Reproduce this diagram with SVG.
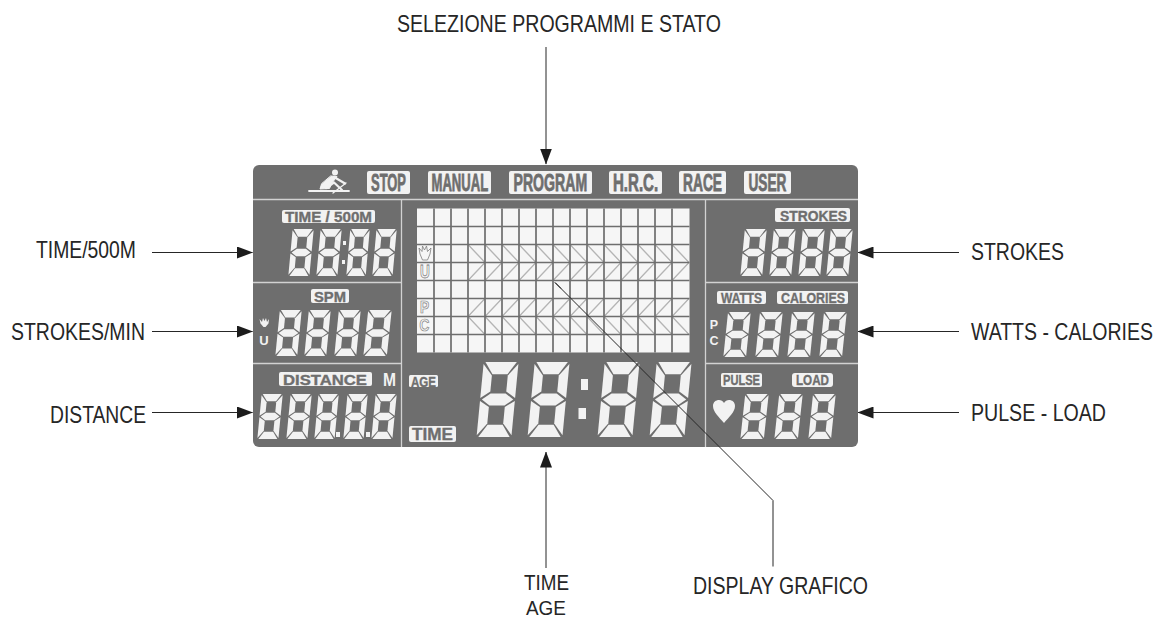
<svg xmlns="http://www.w3.org/2000/svg" xmlns:xlink="http://www.w3.org/1999/xlink" width="1155" height="619" viewBox="0 0 1155 619">
<style>
.t{font-family:"Liberation Sans",Arial,sans-serif;font-size:23px;fill:#262626}
.l{font-family:"Liberation Sans",Arial,sans-serif;font-weight:bold;fill:#6e6e6e;stroke:#6e6e6e;stroke-width:.35}
.h{font-family:"Liberation Sans",Arial,sans-serif;font-weight:bold;font-size:24px;fill:#6e6e6e;stroke:#6e6e6e;stroke-width:.8}
.w{font-family:"Liberation Sans",Arial,sans-serif;font-weight:bold;fill:#f2f2f2}
.o{font-family:"Liberation Sans",Arial,sans-serif;font-weight:bold;font-size:16px;fill:#f4f4f4;stroke:#7d7d7d;stroke-width:.7;opacity:.99}
.b{fill:#f2f2f2}
.s{fill:none;stroke:#d2d2d2;stroke-width:1.3}
.c{fill:none;stroke:#262626;stroke-width:1}
</style>
<defs>
<marker id="a" markerUnits="userSpaceOnUse" markerWidth="16" markerHeight="12" refX="15.5" refY="6" orient="auto"><path d="M0 0L16 6L0 12Z" fill="#1c1c1c"/></marker>
<symbol id="d" viewBox="0 0 100 160" preserveAspectRatio="none">
<g transform="matrix(1 0 -0.105 1 17 0)" fill="#f2f2f2">
<path d="M5 0H78L59 26H24Z"/><path d="M1 4L23 29V63L1 77Z"/><path d="M82 4L60 29V63L82 77Z"/>
<path d="M5 80L24 67H59L78 80L59 93H24Z"/>
<path d="M1 83L23 96V131L1 156Z"/><path d="M82 83L60 96V131L82 156Z"/><path d="M24 134H59L78 160H5Z"/>
</g></symbol>
<pattern id="z" patternUnits="userSpaceOnUse" x="468" width="17" height="36" y="244.5"><path d="M0 0L17 18L0 36" fill="none" stroke="#7a7a7a" stroke-width="1"/></pattern>
</defs>

<g id="panel">
<rect x="253" y="165" width="605" height="282" rx="6" fill="#6e6e6e"/>
<path class="s" d="M253 199.500H858M401.500 199.500V447M705.500 199.500V447M253 282.500H401M253 363.500H401M706 282.500H858M706 363.500H858"/>
</g>

<g id="program-bar">
<g id="rower" fill="#f2f2f2" stroke="#f2f2f2" stroke-linecap="round" stroke-linejoin="round">
<circle cx="335" cy="172.500" r="3" stroke="none"/>
<path d="M309 191H349" stroke-width="1.800" fill="none"/>
<path d="M331 176L337 176.500L332 183L329.500 188.500L320 189L321.500 184Z" stroke-width="1"/>
<path d="M334 177L345 183.500M326 188L334 182.500L342 190" stroke-width="2.200" fill="none"/>
<path d="M333 193L346 183" stroke-width="1.300" fill="none"/>
</g>
<g id="stop"><rect x="367" y="171" width="43" height="23" rx="2" fill="#f2f2f2"/><text class="h" transform="translate(371 191) scale(.55 1)" textLength="63.600" lengthAdjust="spacingAndGlyphs">STOP</text></g>
<g id="manual"><rect x="428" y="171" width="63" height="23" rx="2" fill="#f2f2f2"/><text class="h" transform="translate(431.500 191) scale(.55 1)" textLength="103" lengthAdjust="spacingAndGlyphs">MANUAL</text></g>
<g id="program"><rect x="509" y="171" width="83" height="23" rx="2" fill="#f2f2f2"/><text class="h" transform="translate(513.500 191) scale(.55 1)" textLength="134" lengthAdjust="spacingAndGlyphs">PROGRAM</text></g>
<g id="hrc"><rect x="609" y="171" width="53" height="23" rx="2" fill="#f2f2f2"/><text class="h" transform="translate(613 191) scale(.55 1)" textLength="82" lengthAdjust="spacingAndGlyphs">H.R.C.</text></g>
<g id="race"><rect x="679" y="171" width="47" height="23" rx="2" fill="#f2f2f2"/><text class="h" transform="translate(683 191) scale(.55 1)" textLength="71" lengthAdjust="spacingAndGlyphs">RACE</text></g>
<g id="user"><rect x="744" y="171" width="47" height="23" rx="2" fill="#f2f2f2"/><text class="h" transform="translate(748.500 191) scale(.55 1)" textLength="69" lengthAdjust="spacingAndGlyphs">USER</text></g>
</g>

<g id="time500m">
<rect x="282" y="210" width="93" height="13" rx="2" fill="#f2f2f2"/><text class="l" x="285" y="222" font-size="15" textLength="87" lengthAdjust="spacingAndGlyphs">TIME / 500M</text>
<use xlink:href="#d" href="#d" x="288" y="229" width="26" height="47"/><use xlink:href="#d" href="#d" x="316" y="229" width="26" height="47"/>
<use xlink:href="#d" href="#d" x="346" y="229" width="24" height="47"/><use xlink:href="#d" href="#d" x="372" y="229" width="25" height="47"/>
<rect class="b" x="343" y="241" width="3" height="4"/><rect class="b" x="342" y="260" width="3" height="4"/>
</g>

<g id="spm">
<rect x="311" y="289" width="38" height="14" rx="2" fill="#f2f2f2"/><text class="l" x="314" y="301.500" font-size="15" textLength="32" lengthAdjust="spacingAndGlyphs">SPM</text>
<path class="b" d="M259.500 319L262 322L263 318L264.500 321L266 318L267 322L269 319L268.500 323.500L265.500 327H263.500L260.500 323.500Z"/>
<text class="w" x="264" y="345" font-size="13" text-anchor="middle">U</text>
<use xlink:href="#d" href="#d" x="275" y="310" width="27" height="46"/><use xlink:href="#d" href="#d" x="304" y="310" width="27" height="46"/>
<use xlink:href="#d" href="#d" x="334" y="310" width="27" height="46"/><use xlink:href="#d" href="#d" x="363" y="310" width="29" height="46"/>
</g>

<g id="distance">
<rect x="279" y="372" width="93" height="14" rx="2" fill="#f2f2f2"/><text class="l" x="283" y="384.500" font-size="15" textLength="84" lengthAdjust="spacingAndGlyphs">DISTANCE</text>
<text class="w" x="383" y="386" font-size="18" textLength="13" lengthAdjust="spacingAndGlyphs">M</text>
<use xlink:href="#d" href="#d" x="257" y="394" width="26" height="45"/><use xlink:href="#d" href="#d" x="286" y="394" width="26" height="45"/>
<use xlink:href="#d" href="#d" x="314" y="394" width="25" height="45"/><use xlink:href="#d" href="#d" x="343" y="394" width="25" height="45"/>
<use xlink:href="#d" href="#d" x="371" y="394" width="26" height="45"/>
<rect class="b" x="336" y="432" width="4" height="5"/><rect class="b" x="366" y="432" width="4" height="5"/>
</g>

<g id="graphic-display">
<rect x="417" y="208.500" width="272.500" height="144" fill="#f6f6f6"/>
<rect x="468" y="244.500" width="221" height="36" fill="url(#z)"/>
<rect x="468" y="298.500" width="221" height="36" fill="url(#z)"/>
<path d="M434 208.500V352.500M451 208.500V352.500M468 208.500V352.500M485 208.500V352.500M502 208.500V352.500M519 208.500V352.500M536 208.500V352.500M553 208.500V352.500M570 208.500V352.500M587 208.500V352.500M604 208.500V352.500M621 208.500V352.500M638 208.500V352.500M655 208.500V352.500M672 208.500V352.500M417 226.500H689.500M417 244.500H689.500M417 262.500H689.500M417 280.500H689.500M417 298.500H689.500M417 316.500H689.500M417 334.500H689.500" fill="none" stroke="#6e6e6e" stroke-width="1.700"/>
<path d="M419 248L422 251.500L422.500 246L424.500 250L426.500 246L427.500 251.500L431 248L430 254L427.500 260H422.500L420 254Z" fill="#f6f6f6" stroke="#7d7d7d" stroke-width=".8"/>
<text class="o" transform="translate(425 278) scale(.85 1.100)" text-anchor="middle">U</text>
<text class="o" transform="translate(424.500 313) scale(.85 1)" text-anchor="middle">P</text>
<text class="o" transform="translate(424.500 331) scale(.85 1)" text-anchor="middle">C</text>
</g>

<g id="time-age">
<rect x="409" y="375" width="29" height="12" rx="1.500" fill="#f2f2f2"/><text class="l" x="411" y="386.500" font-size="14" textLength="25" lengthAdjust="spacingAndGlyphs" stroke-width=".7">AGE</text>
<rect x="409" y="426" width="47" height="16" rx="2" fill="#f2f2f2"/><text class="l" x="412" y="440" font-size="17" textLength="41" lengthAdjust="spacingAndGlyphs">TIME</text>
<use xlink:href="#d" href="#d" x="476" y="362" width="43" height="75"/><use xlink:href="#d" href="#d" x="527" y="362" width="43" height="75"/>
<use xlink:href="#d" href="#d" x="597" y="362" width="43" height="75"/><use xlink:href="#d" href="#d" x="649" y="362" width="43" height="75"/>
<rect class="b" x="581" y="379" width="7" height="11"/><rect class="b" x="578.500" y="408" width="7.500" height="11"/>
</g>

<g id="strokes">
<rect x="775" y="208" width="75" height="14" rx="2" fill="#f2f2f2"/><text class="l" x="780" y="220.500" font-size="14" textLength="67" lengthAdjust="spacingAndGlyphs">STROKES</text>
<use xlink:href="#d" href="#d" x="740" y="229" width="27" height="47"/><use xlink:href="#d" href="#d" x="769" y="229" width="27" height="47"/>
<use xlink:href="#d" href="#d" x="798" y="229" width="27" height="47"/><use xlink:href="#d" href="#d" x="826" y="229" width="27" height="47"/>
</g>

<g id="watts-calories">
<rect x="717" y="291" width="49" height="13" rx="2" fill="#f2f2f2"/><text class="l" x="721" y="302.500" font-size="14" textLength="41" lengthAdjust="spacingAndGlyphs">WATTS</text>
<rect x="777" y="291" width="71" height="13" rx="2" fill="#f2f2f2"/><text class="l" x="781" y="302.500" font-size="14" textLength="64" lengthAdjust="spacingAndGlyphs">CALORIES</text>
<text class="w" x="714" y="329" font-size="12.500" text-anchor="middle">P</text><text class="w" x="714" y="345" font-size="12.500" text-anchor="middle">C</text>
<use xlink:href="#d" href="#d" x="723" y="312" width="28" height="45"/><use xlink:href="#d" href="#d" x="755" y="312" width="28" height="45"/>
<use xlink:href="#d" href="#d" x="787" y="312" width="28" height="45"/><use xlink:href="#d" href="#d" x="819" y="312" width="28" height="45"/>
</g>

<g id="pulse-load">
<rect x="721" y="373" width="41" height="14" rx="2" fill="#f2f2f2"/><text class="l" x="723" y="385" font-size="15" textLength="37" lengthAdjust="spacingAndGlyphs">PULSE</text>
<rect x="792" y="373" width="41" height="14" rx="3" fill="#f2f2f2"/><text class="l" x="796" y="385" font-size="15" textLength="33" lengthAdjust="spacingAndGlyphs">LOAD</text>
<path class="b" d="M724 423C719 417 713 412 713 406C713 402 716 400 719 400C721 400 723 401 724 403C725 401 727 400 729 400C732 400 735 402 735 406C735 412 729 417 724 423Z"/>
<use xlink:href="#d" href="#d" x="740" y="394" width="29" height="45"/><use xlink:href="#d" href="#d" x="774" y="394" width="29" height="45"/>
<use xlink:href="#d" href="#d" x="808" y="394" width="28" height="45"/>
</g>

<g id="connectors">
<path class="c" d="M546 47V164" marker-end="url(#a)"/>
<path class="c" d="M152 252.500H252.500" marker-end="url(#a)"/>
<path class="c" d="M152 331.500H252.500" marker-end="url(#a)"/>
<path class="c" d="M152 412.500H252.500" marker-end="url(#a)"/>
<path class="c" d="M959 252.500H858" marker-end="url(#a)"/>
<path class="c" d="M959 331.500H858" marker-end="url(#a)"/>
<path class="c" d="M959 412.500H858" marker-end="url(#a)"/>
<path class="c" d="M546 568V452" marker-end="url(#a)"/>
<path class="c" d="M773 566.500V500.500L555 282.500"/>
<path class="c" d="M555 282.500L561 288.500" stroke-width="1.800"/>
</g>

<g id="labels">
<text class="t" transform="translate(397 32) scale(.85 1)" textLength="381" lengthAdjust="spacingAndGlyphs">SELEZIONE PROGRAMMI E STATO</text>
<text class="t" transform="translate(36 258) scale(.85 1)" textLength="117.600" lengthAdjust="spacingAndGlyphs">TIME/500M</text>
<text class="t" transform="translate(11 340) scale(.85 1)" textLength="157.600" lengthAdjust="spacingAndGlyphs">STROKES/MIN</text>
<text class="t" transform="translate(50 423) scale(.85 1)" textLength="113" lengthAdjust="spacingAndGlyphs">DISTANCE</text>
<text class="t" transform="translate(971 260) scale(.85 1)" textLength="109.400" lengthAdjust="spacingAndGlyphs">STROKES</text>
<text class="t" transform="translate(971 340) scale(.85 1)" textLength="214" lengthAdjust="spacingAndGlyphs">WATTS - CALORIES</text>
<text class="t" transform="translate(971 421) scale(.85 1)" textLength="158.800" lengthAdjust="spacingAndGlyphs">PULSE - LOAD</text>
<text class="t" style="font-size:22px" transform="translate(524 590) scale(.85 1)" textLength="53" lengthAdjust="spacingAndGlyphs">TIME</text>
<text class="t" style="font-size:21px" transform="translate(526 614.500) scale(.85 1)" textLength="47" lengthAdjust="spacingAndGlyphs">AGE</text>
<text class="t" transform="translate(693 594) scale(.85 1)" textLength="205.900" lengthAdjust="spacingAndGlyphs">DISPLAY GRAFICO</text>
</g>
</svg>
